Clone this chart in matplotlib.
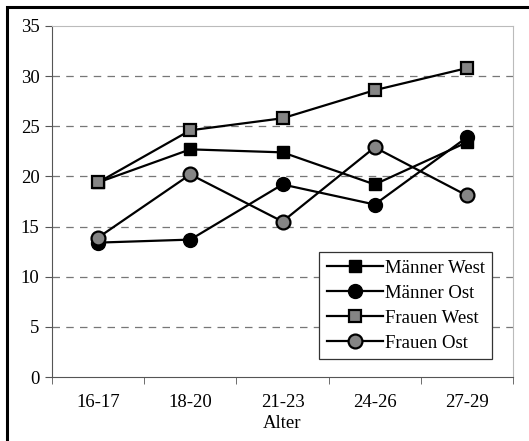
# Altersverlauf nach Geschlecht und Region

import matplotlib.pyplot as plt
from matplotlib.patches import Rectangle

# Daten
alter = ['16-17', '18-20', '21-23', '24-26', '27-29']
maenner_west = [19.4, 22.7, 22.4, 19.2, 23.4]
maenner_ost = [13.4, 13.7, 19.2, 17.2, 23.9]
frauen_west = [19.4, 24.6, 25.8, 28.6, 30.8]
frauen_ost = [13.9, 20.2, 15.5, 22.9, 18.1]
y_ticks = [0, 5, 10, 15, 20, 25, 30, 35]

plt.rcParams['font.family'] = ['Liberation Serif', 'DejaVu Serif']
plt.rcParams['font.size'] = 13.5

fig = plt.figure(figsize=(5.29, 4.41), dpi=100)
ax = fig.add_axes([52 / 529, 64 / 441, 461 / 529, 351 / 441])

# Rahmen um die ganze Grafik
fig.patches.append(Rectangle((7 / 529, -0.05), 1.1, 1.05 - 7 / 441,
                             transform=fig.transFigure, fill=False,
                             edgecolor='black', linewidth=2.2))

x = range(len(alter))
lw = 1.6
ax.plot(x, maenner_west, color='black', lw=lw, marker='s', markersize=8.5,
        markerfacecolor='black', markeredgecolor='black', label='Männer West', zorder=3)
ax.plot(x, maenner_ost, color='black', lw=lw, marker='o', markersize=10,
        markerfacecolor='black', markeredgecolor='black', label='Männer Ost', zorder=3)
ax.plot(x, frauen_west, color='black', lw=lw, marker='s', markersize=8.5,
        markerfacecolor='#858585', markeredgecolor='black', markeredgewidth=1.6,
        label='Frauen West', zorder=3)
ax.plot(x, frauen_ost, color='black', lw=lw, marker='o', markersize=10,
        markerfacecolor='#858585', markeredgecolor='black', markeredgewidth=1.6,
        label='Frauen Ost', zorder=3)

ax.set_xlim(-0.5, len(alter) - 0.5)
ax.set_ylim(0, 35)
ax.set_yticks(y_ticks)
ax.set_xticks(list(x))
ax.set_xticklabels(alter)
ax.set_xticks([i - 0.5 for i in range(len(alter) + 1)], minor=True)
ax.tick_params(axis='x', which='major', length=0, pad=12)
ax.tick_params(axis='x', which='minor', length=5, color='#555555', direction='out')
ax.tick_params(axis='y', length=5, color='#555555', direction='out', pad=4)

for val in y_ticks[1:-1]:
    ax.axhline(val, color='#777777', lw=0.9, ls=(0, (6, 5)), zorder=1)

ax.spines['left'].set_color('#555555')
ax.spines['bottom'].set_color('#555555')
ax.spines['top'].set_color('#bbbbbb')
ax.spines['right'].set_color('#bbbbbb')

ax.set_xlabel('Alter', labelpad=3)

leg = ax.legend(loc='lower right', bbox_to_anchor=(0.955, 0.05), frameon=True,
                fancybox=False, edgecolor='#333333', framealpha=1,
                handlelength=3.0, borderpad=0.4, labelspacing=0.42,
                handletextpad=0.1, borderaxespad=0)
leg.get_frame().set_linewidth(0.9)

plt.savefig('out.png', dpi=100)
